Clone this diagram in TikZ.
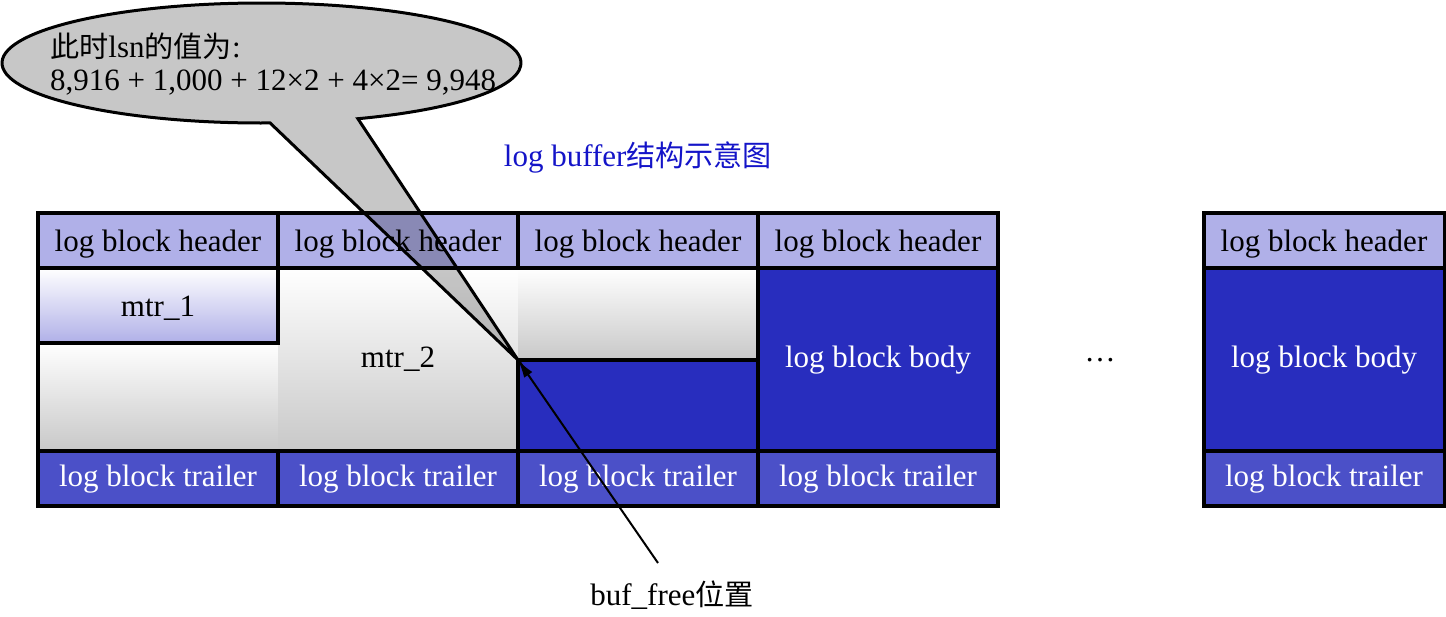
\documentclass[tikz,border=0pt]{standalone}
\usepackage{fontspec}
\setmainfont{Liberation Serif}
\newfontfamily\cjk{Noto Sans CJK SC}[Scale=0.94]
\usetikzlibrary{arrows.meta}
\definecolor{hdr}{RGB}{176,176,232}
\definecolor{bdy}{RGB}{40,45,190}
\definecolor{trl}{RGB}{75,80,200}
\definecolor{ttl}{RGB}{20,20,200}
\definecolor{gbot}{RGB}{200,200,200}
\begin{document}
\begin{tikzpicture}[x=1pt,y=-1pt,font=\fontsize{31}{35}\selectfont,
  cell/.style={line width=4pt,inner sep=0pt,outer sep=0pt,text height=22pt,text depth=7pt,line join=miter},
  hdrcell/.style={cell,draw=black,fill=hdr,minimum width=240pt,minimum height=55pt,text depth=0pt},
  trlcell/.style={cell,draw=black,fill=trl,text=white,minimum width=240pt,minimum height=55pt},
  bodycell/.style={cell,draw=black,fill=bdy,text=white,minimum width=240pt},
  graycell/.style={cell,top color=white,bottom color=gbot,minimum width=240pt},
  mtrcell/.style={cell,draw=black,top color=white,bottom color=hdr,minimum width=240pt,text depth=0pt},
  frame/.style={draw=black,line width=4pt,line join=miter}
]
\useasboundingbox (0,0) rectangle (1446,616);

% shaded free/used areas (no border)
\node[graycell,minimum height=108pt] (g1) at (158,397) {};
\node[graycell,minimum height=183pt] (m2) at (398,359.5) {mtr\_2};
\node[graycell,minimum height=92pt] (g3) at (638,314) {};

% bordered cells
\node[mtrcell,minimum height=75pt] (m1) at (158,305.5) {mtr\_1};
\node[bodycell,minimum height=91pt] (b3) at (638,405.5) {};
\node[bodycell,minimum height=183pt] (b4) at (878,359.5) {log block body};
\node[bodycell,minimum height=183pt,minimum width=241pt] (b5) at (1324,359.5) {log block body};

\foreach \i/\x in {1/158,2/398,3/638,4/878}{
  \node[hdrcell] (h\i) at (\x,240.5) {log block header};
  \node[trlcell] (t\i) at (\x,478.5) {log block trailer};
}
\node[hdrcell,minimum width=241pt] (h5) at (1324,240.5) {log block header};
\node[trlcell,minimum width=241pt] (t5) at (1324,478.5) {log block trailer};

\draw[frame] (h1.north west) rectangle (t4.south east);
\draw[frame] (h5.north west) rectangle (t5.south east);

\node (dots) at (1100,360) {\ldots};

% title
\node[text=ttl,anchor=base] (title) at (638,166) {log buffer{\cjk 结构示意图}};

% callout
\path[draw=black,line width=3pt,fill=black,fill opacity=0.22,line join=miter]
  (261.5,63) ++(88.1:259.5 and 60)
  arc[start angle=88.1,end angle=428.2,x radius=259.5,y radius=60]
  -- (b3.north west) -- cycle;
\node[anchor=base west,inner sep=0pt] (c1) at (50,57) {{\cjk 此时}lsn{\cjk 的值为}:};
\node[anchor=base west,inner sep=0pt] (c2) at (50,90) {8,916 + 1,000 + 12×2 + 4×2= 9,948};

% buf_free pointer
\node[anchor=base,inner sep=0pt] (bf) at (672,605) {buf\_free{\cjk 位置}};
\coordinate (bfs) at (658,563);
\draw[line width=2pt,-{Latex[length=18pt,width=10pt]}] (bfs) -- (b3.north west);
\end{tikzpicture}
\end{document}
